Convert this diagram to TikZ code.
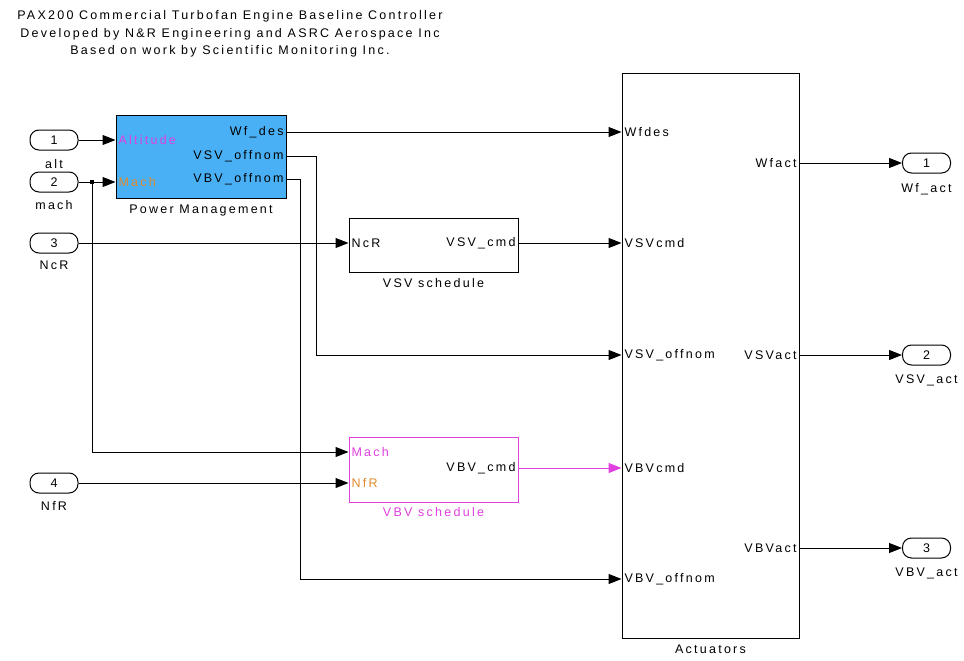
\documentclass[tikz,border=0pt]{standalone}
\usepackage{fontspec}
\usepackage{tikz}
\usetikzlibrary{arrows.meta, positioning, calc}
\newfontfamily\simfont[LetterSpace=18]{Liberation Sans}
\newcommand\sigfont{\simfont\fontsize{12.5}{17.5}\selectfont}
\definecolor{PMBlue}{HTML}{4AB0F5}
\definecolor{Magenta}{HTML}{E040E0}
\definecolor{Orange}{HTML}{E08A2C}
\tikzset{
  blk/.style={draw, inner sep=0pt},
  port/.style={draw, rounded corners=9pt, minimum width=48pt, minimum height=20pt,
               inner sep=0pt, font=\sigfont},
  lbl/.style={inner sep=1pt, font=\sigfont},
  arr/.style={-{Triangle[length=13pt,width=10pt]}}
}

\begin{document}
\begin{tikzpicture}[x=1pt, y=-1pt, line width=1pt]
  \useasboundingbox (0,0) rectangle (964,661);
  \node[lbl, align=center] (title) at (230,34)
    {PAX200 Commercial Turbofan Engine Baseline Controller\\
     Developed by N\&R Engineering and ASRC Aerospace Inc\\
     Based on work by Scientific Monitoring Inc.};

  % blocks
  \node[blk, fill=PMBlue, minimum width=170pt, minimum height=83pt] (pm)  at (201,156.5) {};
  \node[blk, minimum width=169pt, minimum height=54pt]              (vsv) at (433.5,245) {};
  \node[blk, draw=Magenta, minimum width=169pt, minimum height=65pt] (vbv) at (433.5,469.5) {};
  \node[blk, minimum width=177pt, minimum height=564pt]             (act) at (710.5,356) {};
  \node[lbl, below=5pt of pm]  (pmname)  {Power Management};
  \node[lbl, below=4pt of vsv] (vsvname) {VSV schedule};
  \node[lbl, below=3pt of vbv, text=Magenta] (vbvname) {VBV schedule};
  \node[lbl, below=5pt of act] (actname) {Actuators};

  % port labels inside the blocks
  \node[lbl, anchor=west, text=Magenta] (pmAlt)  at (117,140) {Altitude};
  \node[lbl, anchor=west, text=Orange]  (pmMach) at (117,182) {Mach};
  \node[lbl, anchor=east] (pmWf)  at (285,132) {Wf\_des};
  \node[lbl, anchor=east] (pmVSV) at (285,156) {VSV\_offnom};
  \node[lbl, anchor=east] (pmVBV) at (285,179) {VBV\_offnom};
  \node[lbl, anchor=west] (vsvNcR) at (350,243) {NcR};
  \node[lbl, anchor=east] (vsvCmd) at (517,243) {VSV\_cmd};
  \node[lbl, anchor=west, text=Magenta] (vbvMach) at (350,452) {Mach};
  \node[lbl, anchor=west, text=Orange]  (vbvNfR)  at (350,483) {NfR};
  \node[lbl, anchor=east] (vbvCmd) at (517,468) {VBV\_cmd};
  \node[lbl, anchor=west] (actWf)   at (623,132) {Wfdes};
  \node[lbl, anchor=west] (actVSVc) at (623,243) {VSVcmd};
  \node[lbl, anchor=west] (actVSVo) at (623,355) {VSV\_offnom};
  \node[lbl, anchor=west] (actVBVc) at (623,468) {VBVcmd};
  \node[lbl, anchor=west] (actVBVo) at (623,579) {VBV\_offnom};
  \node[lbl, anchor=east] (actWfo)  at (798,163) {Wfact};
  \node[lbl, anchor=east] (actVSVa) at (798,355) {VSVact};
  \node[lbl, anchor=east] (actVBVa) at (798,548) {VBVact};

  % in and out ports
  \node[port] (in1) at (54,140) {1};
  \node[lbl, below=7pt of in1] (in1name) {alt};
  \node[port] (in2) at (54,182) {2};
  \node[lbl, below=6pt of in2] (in2name) {mach};
  \node[port] (in3) at (54,243) {3};
  \node[lbl, below=6pt of in3] (in3name) {NcR};
  \node[port] (in4) at (54,483) {4};
  \node[lbl, below=6pt of in4] (in4name) {NfR};
  \node[port] (out1) at (926.5,163) {1};
  \node[lbl, below=8pt of out1] (out1name) {Wf\_act};
  \node[port] (out2) at (926.5,355) {2};
  \node[lbl, below=8pt of out2] (out2name) {VSV\_act};
  \node[port] (out3) at (926.5,548) {3};
  \node[lbl, below=8pt of out3] (out3name) {VBV\_act};

  % signal lines
  \coordinate (jn) at (92,182);
  \draw[arr] (in1) -- (pmAlt -| pm.west);
  \draw[arr] (in2) -- (pmMach -| pm.west);
  \draw[arr] (jn) |- (vbvMach -| vbv.west);
  \node[fill, minimum size=4pt, inner sep=0pt] (jdot) at (jn) {};
  \draw[arr] (in3) -- (vsvNcR -| vsv.west);
  \draw[arr] (in4) -- (vbvNfR -| vbv.west);
  \draw[arr] (pmWf -| pm.east) -- (actWf -| act.west);
  \draw[arr] (pmVSV -| pm.east) -- ++(30,0) |- (actVSVo -| act.west);
  \draw[arr] (pmVBV -| pm.east) -- ++(14,0) |- (actVBVo -| act.west);
  \draw[arr] (vsvCmd -| vsv.east) -- (actVSVc -| act.west);
  \draw[arr, draw=Magenta, fill=Magenta] (vbvCmd -| vbv.east) -- (actVBVc -| act.west);
  \draw[arr] (actWfo -| act.east) -- (out1);
  \draw[arr] (actVSVa -| act.east) -- (out2);
  \draw[arr] (actVBVa -| act.east) -- (out3);
\end{tikzpicture}
\end{document}
